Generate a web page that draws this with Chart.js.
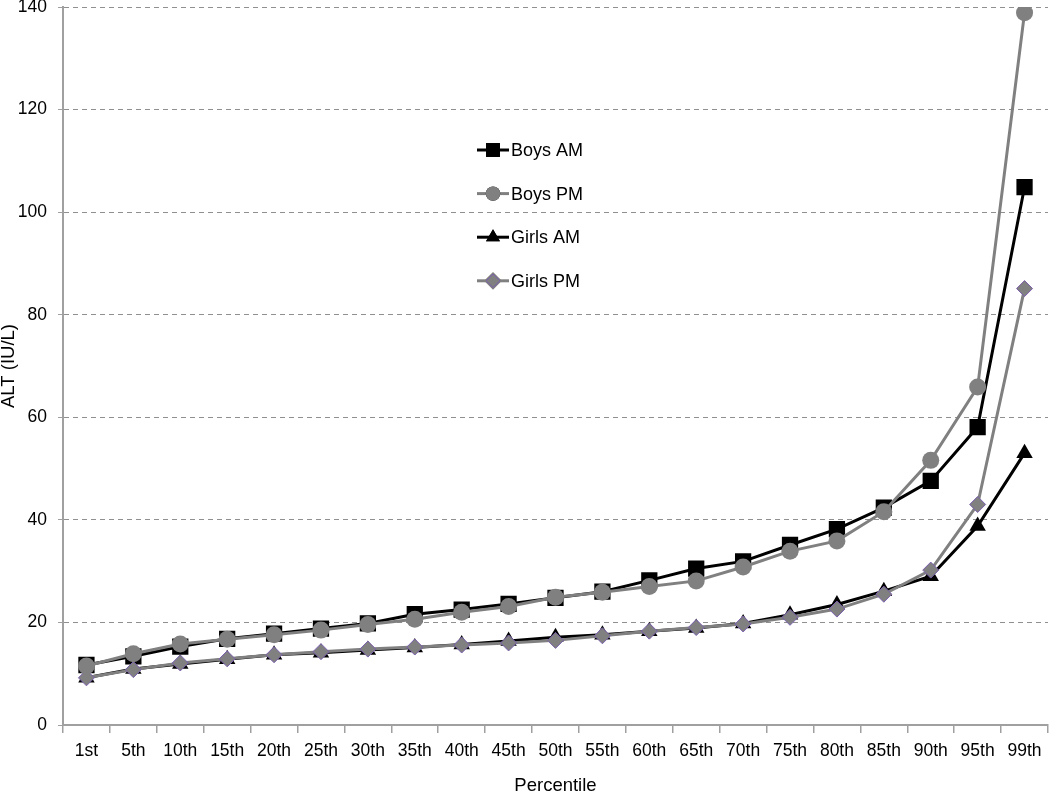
<!DOCTYPE html>
<html>
<head>
<meta charset="utf-8">
<script src="https://cdn.jsdelivr.net/npm/chart.js@4/dist/chart.umd.min.js"></script>
<style>
  html, body { margin: 0; padding: 0; background: #fff; }
  #wrap { width: 1050px; height: 791px; }
</style>
</head>
<body>
<div id="wrap"><canvas id="altChart" width="1050" height="791"></canvas></div>
<script>
var percentiles = ['1st', '5th', '10th', '15th', '20th', '25th', '30th', '35th', '40th', '45th', '50th',
  '55th', '60th', '65th', '70th', '75th', '80th', '85th', '90th', '95th', '99th'];

var boysAM = [11.7, 13.4, 15.3, 16.8, 17.8, 18.8, 19.8, 21.6, 22.5, 23.6, 24.8,
  26.0, 28.2, 30.5, 31.9, 35.1, 38.2, 42.4, 47.6, 58.1, 104.9];
var boysPM = [11.5, 13.9, 15.8, 16.7, 17.6, 18.5, 19.6, 20.6, 22.0, 23.1, 24.9,
  25.9, 27.0, 28.1, 30.8, 33.9, 35.9, 41.6, 51.6, 65.9, 138.9];
var girlsAM = [9.2, 10.9, 11.9, 12.8, 13.7, 14.1, 14.6, 15.1, 15.7, 16.4, 17.1,
  17.6, 18.3, 18.9, 19.8, 21.5, 23.5, 26.1, 29.0, 38.8, 53.0];
var girlsPM = [9.2, 10.8, 12.1, 12.9, 13.7, 14.3, 14.8, 15.2, 15.6, 16.0, 16.5,
  17.4, 18.3, 19.0, 19.7, 21.0, 22.6, 25.5, 30.2, 43.0, 85.1];

var FONT = 'Liberation Sans, Arial, sans-serif';
var GRAY = '#808080';
var AXIS = '#a0a0a0';

// legend sits inside the plot, so draw it by hand
var insideLegend = {
  id: 'insideLegend',
  afterDraw: function (chart) {
    var ctx = chart.ctx;
    var x0 = 477, x1 = 509, y = 150, step = 43.6;
    ctx.save();
    chart.data.datasets.forEach(function (ds, i) {
      var yy = y + i * step;
      ctx.strokeStyle = ds.borderColor;
      ctx.lineWidth = 3;
      ctx.beginPath();
      ctx.moveTo(x0, yy);
      ctx.lineTo(x1, yy);
      ctx.stroke();
      Chart.helpers.drawPoint(ctx, {
        pointStyle: ds.pointStyle,
        radius: ds.pointRadius * 0.85,
        borderWidth: ds.pointBorderWidth
      }, (x0 + x1) / 2, yy);
      ctx.fillStyle = ds.pointBackgroundColor;
      ctx.strokeStyle = ds.pointBorderColor;
      ctx.lineWidth = ds.pointBorderWidth;
      ctx.fill();
      if (ds.pointBorderWidth) ctx.stroke();
      ctx.fillStyle = '#000';
      ctx.font = '18px ' + FONT;
      ctx.textBaseline = 'middle';
      ctx.fillText(ds.label, x1 + 2, yy + 1);
    });
    ctx.restore();
  }
};

new Chart('altChart', {
  type: 'line',
  data: {
    labels: percentiles,
    datasets: [
      {
        label: 'Boys AM', data: boysAM, order: 3,
        borderColor: '#000', borderWidth: 3,
        pointStyle: 'rect', pointRadius: 11.5,
        pointBackgroundColor: '#000', pointBorderColor: '#000', pointBorderWidth: 0
      },
      {
        label: 'Boys PM', data: boysPM, order: 1,
        borderColor: GRAY, borderWidth: 3,
        pointStyle: 'circle', pointRadius: 8.5,
        pointBackgroundColor: GRAY, pointBorderColor: GRAY, pointBorderWidth: 0
      },
      {
        label: 'Girls AM', data: girlsAM, order: 4,
        borderColor: '#000', borderWidth: 3,
        pointStyle: 'triangle', pointRadius: 9.5,
        pointBackgroundColor: '#000', pointBorderColor: '#000', pointBorderWidth: 0
      },
      {
        label: 'Girls PM', data: girlsPM, order: 2,
        borderColor: GRAY, borderWidth: 3,
        pointStyle: 'rectRot', pointRadius: 8,
        pointBackgroundColor: GRAY, pointBorderColor: '#7b5fae', pointBorderWidth: 1
      }
    ]
  },
  options: {
    responsive: false,
    animation: false,
    layout: { padding: 0, autoPadding: false },
    elements: { line: { tension: 0 } },
    plugins: {
      legend: { display: false },
      tooltip: { enabled: false }
    },
    scales: {
      x: {
        offset: true,
        afterFit: function (scale) {
          scale.height = 66;
          scale.paddingLeft = 0;
          scale.paddingRight = 2;
        },
        grid: {
          offset: true, drawOnChartArea: false, drawTicks: true,
          tickLength: 8, color: AXIS, lineWidth: 1.5
        },
        border: { color: AXIS, width: 2 },
        ticks: { color: '#000', font: { family: FONT, size: 17.5 }, padding: 8, maxRotation: 0, autoSkip: false },
        title: { display: true, text: 'Percentile', color: '#000', font: { family: FONT, size: 18.5, lineHeight: 0.5 }, padding: 0 }
      },
      y: {
        min: 0, max: 140,
        afterFit: function (scale) {
          scale.width = 63;
          scale.paddingTop = 7;
          scale.paddingBottom = 0;
        },
        ticks: { stepSize: 20, color: '#000', font: { family: FONT, size: 17.5 }, padding: 11 },
        grid: { color: '#909090', lineWidth: 1, tickLength: 5, tickBorderDash: [], tickColor: AXIS },
        border: { color: AXIS, width: 2, dash: [5, 4] },
        title: { display: true, text: 'ALT (IU/L)', color: '#000', font: { family: FONT, size: 18.5, lineHeight: 1 }, padding: 0 }
      }
    }
  },
  plugins: [insideLegend]
});
</script>
</body>
</html>
